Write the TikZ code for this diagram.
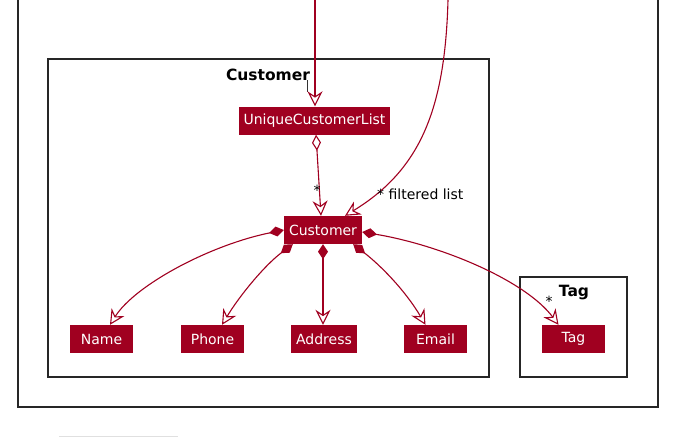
\documentclass[tikz,border=0pt]{standalone}
\usepackage{fontspec}
\setmainfont{DejaVu Sans}
\usetikzlibrary{positioning, arrows.meta}
\definecolor{umlred}{HTML}{A00020}
\tikzset{
  Comp/.tip={Diamond[length=15pt,width=10pt]},
  Aggr/.tip={Diamond[open,fill=white,length=16pt,width=9pt]}
}

\begin{document}
\begin{tikzpicture}[x=1pt, y=1pt, >={Stealth[open,length=15pt,width=15pt,inset=5pt]},
  cls/.style={fill=umlred, text=white, font=\fontsize{14}{16}\selectfont, minimum height=28pt, minimum width=63pt, inner xsep=5pt, inner ysep=0pt},
  pkg/.style={draw=black!85, line width=1.3pt},
  pkgname/.style={font=\fontsize{15.5}{18}\selectfont\bfseries},
  lnk/.style={umlred, line width=1.1pt},
  comp/.style={lnk, Comp->},
  lbl/.style={font=\fontsize{14}{16}\selectfont, inner sep=0pt}]
\useasboundingbox (0,0) rectangle (692,-437);

% frames
\draw[pkg, line width=1.6pt] (18,0) -- (18,-407) -- (658,-407) -- (658,0);
\draw[pkg] (48,-59) rectangle (489,-377);
\draw[pkg] (520,-277) rectangle (627,-377);
\node[pkgname] (custpkg) at (268,-75) {Customer};
\node[pkgname] (tagpkg) at (574,-293) {Tag};
\draw[black!80, line width=0.8pt] (307,-80) -- (307,-92);
\draw[black!12, line width=1pt] (59,-436) -- (178,-436);

% classes
\node[cls] (ucl) at (314.5,-120.5) {UniqueCustomerList};
\node[cls] (cust) at (323,-230) {Customer};
\node[cls] (name) at (101.5,-339) {Name};
\node[cls] (phone) at (212.5,-339) {Phone};
\node[cls] (addr) at (324,-339) {Address};
\node[cls] (email) at (435.5,-339) {Email};
\node[cls] (tag) at (573.5,-339) {Tag};

\coordinate (in1) at (315,0);
\coordinate (in2) at (448,0);

% links
\draw[lnk,->] (in1) -- ([xshift=.5pt]ucl.north);
\draw[lnk,->] (in2) .. controls (445,-110) and (420,-170) .. ([xshift=22pt]cust.north);
\node[lbl, anchor=west] (flt) at (377,-194) {* filtered list};
\draw[lnk, Aggr->] ([xshift=1.5pt]ucl.south) -- ([xshift=-2pt]cust.north);
\node[lbl] (star1) at (317,-190) {*};

\draw[comp] (cust.west) .. controls (210,-245) and (135,-285) .. ([xshift=8.5pt]name.north);
\draw[comp] ([xshift=9pt]cust.south west) .. controls (265,-265) and (240,-295) .. ([xshift=9.5pt]phone.north);
\draw[comp] (cust.south) -- ([xshift=-1pt]addr.north);
\draw[comp] ([xshift=-9pt]cust.south east) .. controls (380,-265) and (405,-290) .. ([xshift=-10pt]email.north);
\draw[comp] ([yshift=-2pt]cust.east) .. controls (440,-245) and (525,-280) .. ([xshift=-15pt]tag.north);
\node[lbl] (star2) at (549,-301) {*};

\end{tikzpicture}
\end{document}
